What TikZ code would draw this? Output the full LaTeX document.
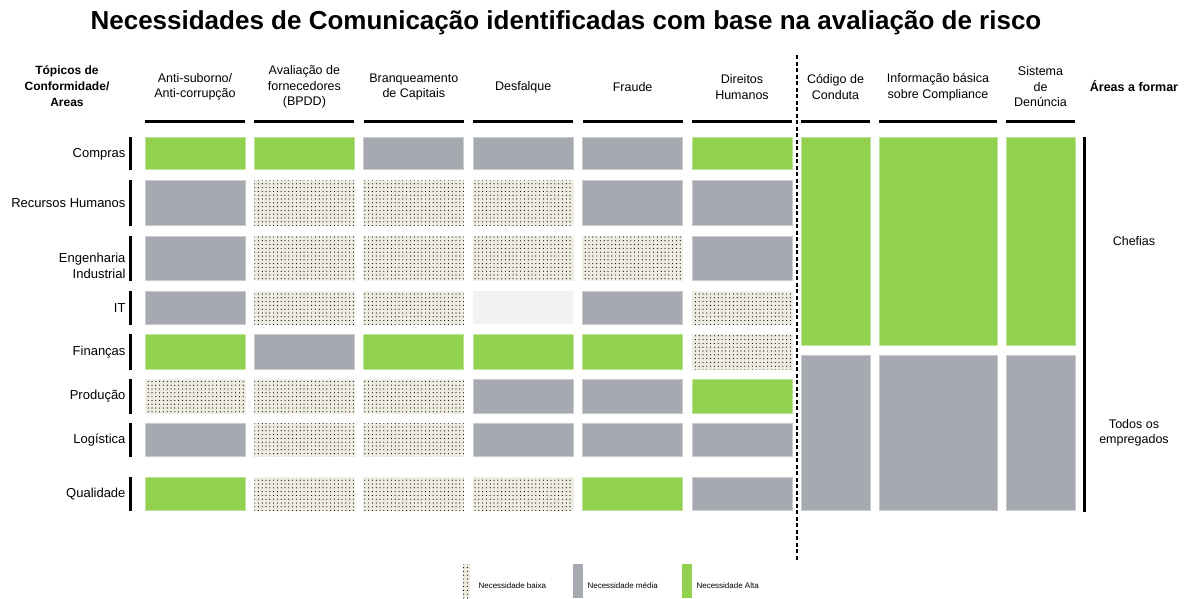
\documentclass[tikz,border=0pt]{standalone}
\usepackage{fontspec}
\setmainfont{Liberation Sans}
\usetikzlibrary{patterns.meta}

\definecolor{altagreen}{HTML}{92D050}
\definecolor{mediagray}{HTML}{A6A9AF}
\definecolor{baixabeige}{HTML}{EEECE1}
\definecolor{vaziogray}{HTML}{F2F2F2}

\tikzset{
  alta/.style={fill=altagreen, draw=altagreen!60!white, line width=0.7pt},
  media/.style={fill=mediagray, draw=mediagray!60!white, line width=0.7pt},
  baixa/.style={fill=baixabeige, draw=baixabeige!80!white, line width=0.7pt,
    postaction={pattern={Dots[distance=3.8pt,radius=0.6pt]}, pattern color=black}},
  vazio/.style={fill=vaziogray},
  topobar/.style={line width=3pt},
  linhabar/.style={line width=3pt},
  colhead/.style={align=center, font=\fontsize{12.5}{15.5}\selectfont},
  rowhead/.style={anchor=east, align=right, font=\fontsize{13}{16}\selectfont},
  areahead/.style={align=center, font=\fontsize{12.5}{15.5}\selectfont},
  legtext/.style={anchor=west, font=\fontsize{8}{9}\selectfont}
}

\begin{document}
\begin{tikzpicture}[x=1pt, y=-1pt]
  \useasboundingbox (0,0) rectangle (1186,598);

  % titulo
  \node[font=\bfseries\fontsize{26}{30}\selectfont] (titulo) at (566,23)
    {Necessidades de Comunicação identificadas com base na avaliação de risco};

  % cabecalhos
  \node[colhead, font=\bfseries\fontsize{12}{16}\selectfont] (topicos) at (67,86) {Tópicos de\\Conformidade/\\Areas};
  \node[colhead, font=\bfseries\fontsize{12.5}{15.5}\selectfont] (areas) at (1134,86) {Áreas a formar};

  \foreach \c/\txt in {1/{Anti-suborno/\\Anti-corrupção}, 2/{Avaliação de\\fornecedores\\(BPDD)},
                       3/{Branqueamento\\de Capitais}, 4/{Desfalque}, 5/{Fraude}, 6/{Direitos\\Humanos}}
  {
    \pgfmathsetmacro{\xl}{145+109.4*(\c-1)}
    \node[colhead] (col\c) at (\xl+50,87) {\txt};
    \draw[topobar] (\xl,121) -- (\xl+100,121);
  }

  \foreach \c/\xl/\xr/\txt in {7/801/870/{Código de\\Conduta}, 8/879/997/{Informação básica\\sobre Compliance},
                               9/1006/1075/{Sistema\\de\\Denúncia}}
  {
    \node[colhead] (col\c) at ({(\xl+\xr)/2},87) {\txt};
    \draw[topobar] (\xl,121) -- (\xr,121);
    \fill[alta] (\xl,137) rectangle (\xr,345);
    \fill[media] (\xl,355) rectangle (\xr,510);
  }

  % linhas da matriz
  \foreach \r/\yt/\yb/\yl/\txt/\vals in {
      1/137/169/154/{Compras}/{alta,alta,media,media,media,alta},
      2/180/225/203/{Recursos Humanos}/{media,baixa,baixa,baixa,media,media},
      3/236/280/266/{Engenharia\\Industrial}/{media,baixa,baixa,baixa,baixa,media},
      4/291/324/308/{IT}/{media,baixa,baixa,vazio,media,baixa},
      5/334/369/352/{Finanças}/{alta,media,alta,alta,alta,baixa},
      6/379/413/396/{Produção}/{baixa,baixa,baixa,media,media,alta},
      7/423/456/440/{Logística}/{media,baixa,baixa,media,media,media},
      8/477/510/494/{Qualidade}/{alta,baixa,baixa,baixa,alta,media}}
  {
    \draw[linhabar] (130.5,\yt) -- (130.5,\yb+1);
    \node[rowhead] (row\r) at (129,\yl) {\txt};
    \foreach \v [count=\c] in \vals
    {
      \pgfmathsetmacro{\xl}{145+109.4*(\c-1)}
      \fill[\v] (\xl,\yt) rectangle (\xl+100,\yb);
    }
  }

  % separador e areas
  \draw[line width=2pt, dash pattern=on 4pt off 2.5pt] (797,55) -- (797,560);
  \draw[linhabar] (1084,137) -- (1084,512);
  \node[areahead] (chefias) at (1134,241) {Chefias};
  \node[areahead] (todos) at (1134,433) {Todos os\\empregados};

  % legenda
  \fill[baixa, draw=none] (463,564) rectangle (470,598);
  \fill[media, draw=none] (573,564) rectangle (583,598);
  \fill[alta, draw=none] (682,564) rectangle (692,598);
  \node[legtext] (legbaixa) at (475,586) {Necessidade baixa};
  \node[legtext] (legmedia) at (584,586) {Necessidade média};
  \node[legtext] (legalta) at (693,586) {Necessidade Alta};
\end{tikzpicture}
\end{document}
